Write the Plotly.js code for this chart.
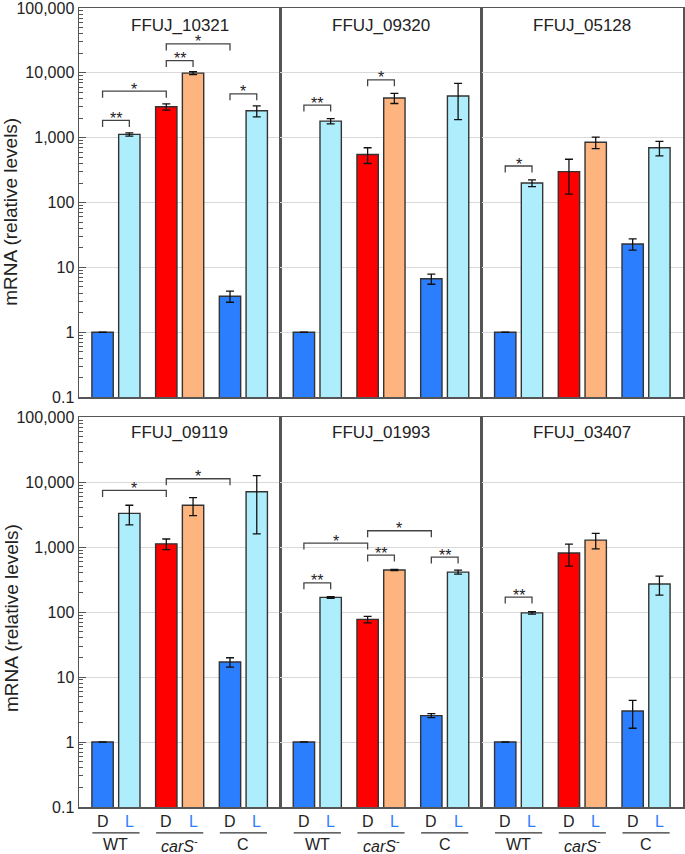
<!DOCTYPE html>
<html><head><meta charset="utf-8">
<script src="https://cdn.plot.ly/plotly-3.0.1.min.js"></script>
<style>html,body{margin:0;padding:0;background:#fff}</style>
</head><body><div id="chart" style="width:685px;height:854px"></div>
<script>
// ---- data ----
const genes = ['FFUJ_10321','FFUJ_09320','FFUJ_05128','FFUJ_09119','FFUJ_01993','FFUJ_03407'];
const strains = ['WT','<i>carS</i><sup>-</sup>','C'];
const conditions = ['D','L'];
// dark (D) means and SD per gene: [WT, carS-, C]
const darkMean = [[1,3000,3.6],[1,550,6.7],[1,300,23],[1,1120,17],[1,77,2.55],[1,810,3.0]];
const darkErr  = [[null,330,0.7],[null,150,1.2],[null,165,4.5],[null,210,2.8],[null,9,0.18],[null,300,1.37]];
// light (L) means and SD per gene
const lightMean = [[1125,9900,2600],[1800,4100,4400],[200,850,700],[3300,4400,7100],[168,443,412],[97,1280,270]];
const lightErr  = [[65,500,500],[170,730,2500],[24,170,175],[1100,1350,5500],[5,10,30],[4,340,88]];
// significance brackets: [gene index, bar from, bar to, bracket level, label]
// bar index: 0 WT-D, 1 WT-L, 2 carS-D, 3 carS-L, 4 C-D, 5 C-L
const brackets = [
  [0,0,1,1845,'**'],[0,0,2,5210,'*'],[0,2,3,15450,'**'],[0,2,4,27900,'*'],[0,4,5,4750,'*'],
  [1,0,1,3180,'**'],[1,2,3,7800,'*'],
  [2,0,1,366,'*'],
  [3,0,2,7450,'*'],[3,2,4,11250,'*'],
  [4,0,1,282,'**'],[4,0,2,1153,'*'],[4,2,3,753,'**'],[4,2,4,1782,'*'],[4,4,5,701,'**'],
  [5,0,1,170,'**']
];
const yTickVals = [0.1,1,10,100,1000,10000,100000];
const yTickText = ['0.1','1','10','100','1,000','10,000','100,000'];

// ---- styles ----
const darkColors = ['#2b7fff','#ff0000','#2b7fff'];
const lightColors = ['#aeeefc','#fdb47f','#aeeefc'];
const OFF = 0.21, BW = 0.335, LEG = Math.pow(10,-0.1);
const FONT = 'Liberation Sans, Arial, sans-serif';
const frameColor = '#555';
function barX(i){ return Math.floor(i/2) + (i%2 ? OFF : -OFF); }

const traces = [], annotations = [], shapes = [];
const layout = {
  width:685, height:854, margin:{l:79,r:2,t:8,b:47},
  paper_bgcolor:'#fff', plot_bgcolor:'#fff',
  barmode:'overlay', showlegend:false,
  font:{family:FONT, size:16, color:'#222'}
};
const minorVals = [];
for (let d=-1; d<5; d++) for (let m=2; m<10; m++) minorVals.push(m*Math.pow(10,d));

genes.forEach((g,k)=>{
  const row = k<3 ? 0 : 1, col = k%3;
  const sfx = k===0 ? '' : String(k+1);
  const xa = 'x'+sfx, ya = 'y'+sfx;
  const groups = [0,1,2];
  traces.push({type:'bar', xaxis:xa, yaxis:ya, x:groups.map(i=>i-OFF), y:darkMean[k], width:BW,
    marker:{color:darkColors, line:{color:'#333', width:1.4}},
    error_y:{type:'data', array:darkErr[k], color:'#111', thickness:1.3, width:4}, hoverinfo:'y'});
  traces.push({type:'bar', xaxis:xa, yaxis:ya, x:groups.map(i=>i+OFF), y:lightMean[k], width:BW,
    marker:{color:lightColors, line:{color:'#333', width:1.4}},
    error_y:{type:'data', array:lightErr[k], color:'#111', thickness:1.3, width:4}, hoverinfo:'y'});
  // brackets
  const bx=[], by=[];
  brackets.filter(b=>b[0]===k).forEach(b=>{
    const x1=barX(b[1]), x2=barX(b[2]), yt=b[3];
    bx.push(x1,x1,x2,x2,null); by.push(yt*LEG,yt,yt,yt*LEG,null);
    annotations.push({xref:xa, yref:ya, x:(x1+x2)/2, y:Math.log10(yt), text:b[4], showarrow:false,
      yanchor:'middle', yshift:2, font:{family:FONT,size:16,color:'#222'}});
  });
  if (bx.length) traces.push({type:'scatter', mode:'lines', xaxis:xa, yaxis:ya, x:bx, y:by,
    line:{color:'#444', width:1.3}, hoverinfo:'skip', cliponaxis:false});

  layout['xaxis'+sfx] = {domain:[col/3,(col+1)/3], range:[-0.58,2.58], anchor:ya,
    showline:true, mirror:true, linecolor:frameColor, linewidth:1.5,
    showticklabels:false, ticks:'', showgrid:false, zeroline:false, fixedrange:true};
  layout['yaxis'+sfx] = {domain: row===0 ? [0.513,1] : [0,0.488], type:'log', range:[-1,5], anchor:xa,
    showline:true, mirror:true, linecolor:frameColor, linewidth:1.5,
    showgrid:true, gridcolor:'#d9d9d9', gridwidth:1, zeroline:false, fixedrange:true,
    tickmode:'array', tickvals:yTickVals, ticktext:yTickText, ticklabeloverflow:'allow',
    showticklabels: col===0, ticks: col===0 ? 'inside' : '', ticklen:7, tickcolor:frameColor,
    tickfont:{family:FONT,size:16,color:'#222'},
    minor: col===0 ? {tickmode:'array', tickvals:minorVals, ticks:'inside', ticklen:4, tickcolor:frameColor, showgrid:false} : {ticks:''}};

  // panel title
  annotations.push({xref:xa+' domain', yref:'paper', x:0.5, y: row===0 ? 0.9787 : 0.469,
    text:g, showarrow:false, yanchor:'middle', font:{family:FONT,size:17,color:'#222'}});
  // x labels (bottom row)
  if (row===1) {
    groups.forEach(i=>{
      conditions.forEach((c,j)=>{
        annotations.push({xref:xa, yref:'paper', x: i + (j ? OFF : -OFF), y:-0.0182, text:c,
          showarrow:false, yanchor:'middle', font:{family:FONT,size:16,color: j ? '#2b7fff' : '#222'}});
      });
      shapes.push({type:'line', xref:xa, yref:'paper', x0:i-0.37, x1:i+0.37, y0:-0.0325, y1:-0.0325,
        line:{color:'#333', width:1.3}});
      annotations.push({xref:xa, yref:'paper', x:i, y:-0.0472, text:strains[i], showarrow:false,
        yanchor:'middle', font:{family:FONT,size:16,color:'#222'}});
    });
  }
});
// y titles
[0.745,0.2365].forEach(yy=>{
  annotations.push({xref:'paper', yref:'paper', x:-0.1126, y:yy, text:'mRNA (relative levels)',
    textangle:-90, showarrow:false, xanchor:'center', yanchor:'middle', font:{family:FONT,size:19,color:'#222'}});
});
layout.annotations = annotations;
layout.shapes = shapes;
Plotly.newPlot('chart', traces, layout, {displayModeBar:false, staticPlot:true});
</script>
</body></html>
